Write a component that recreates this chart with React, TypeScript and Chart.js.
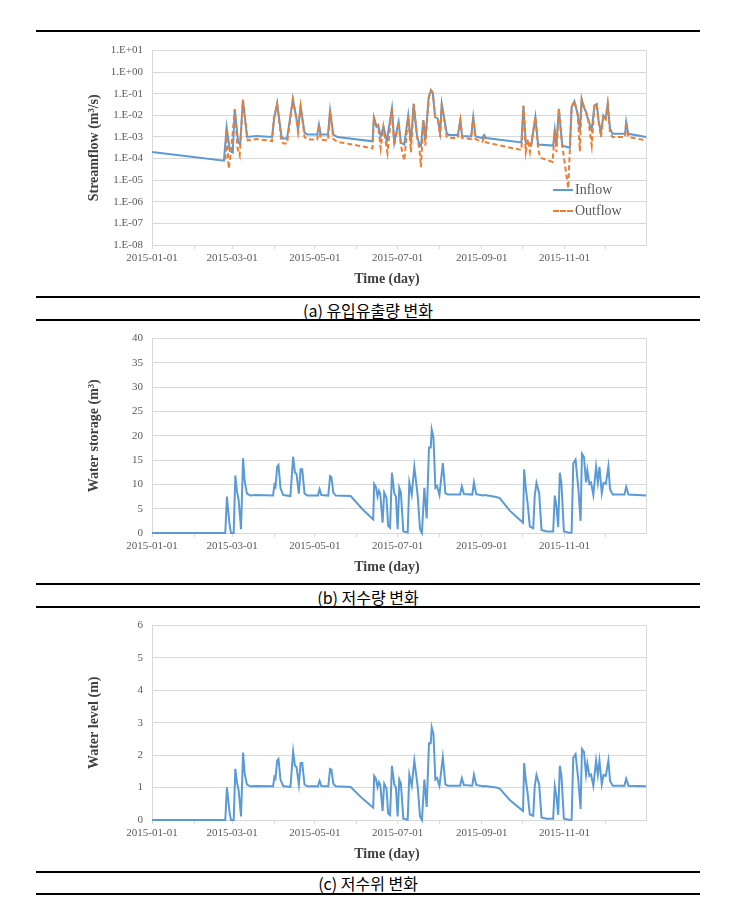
import React, { useEffect, useRef } from 'react';
import { Chart, registerables } from 'chart.js';

Chart.register(...registerables);

// ---- x axis (day of year 2015, 0 = 2015-01-01) ----
const monthStartDay = [0, 31, 59, 90, 120, 151, 181, 212, 243, 273, 304, 334];
const monthTickLabel = ['2015-01-01', '', '2015-03-01', '', '2015-05-01', '', '2015-07-01', '', '2015-09-01', '', '2015-11-01', ''];

// ---- log axis ticks (streamflow) ----
const flowTickValue = [1e-8, 1e-7, 1e-6, 1e-5, 1e-4, 1e-3, 1e-2, 1e-1, 1, 10];
const flowTickLabel = ['1.E-08', '1.E-07', '1.E-06', '1.E-05', '1.E-04', '1.E-03', '1.E-02', '1.E-01', '1.E+00', '1.E+01'];

// ---- (a) inflow ----
const inflowDay = [0, 53, 55, 57.5, 59.5, 61, 63.5, 65, 67, 70, 77, 88.5, 90, 92.2, 95.4, 96.5, 99.5, 103.8, 106.3, 107.6, 109.5, 112.4, 114.4, 121.8, 123, 124.3, 129.7, 131.2, 133.6, 136.6, 162.5, 163.5, 165.5, 166.6, 168.6, 170.6, 173, 176.8, 178.5, 181.7, 183.4, 185.9, 188.8, 190.8, 192.8, 195.3, 197, 198.2, 199.9, 201.4, 203.9, 205.6, 206.9, 208.6, 210.6, 212.3, 213.5, 217.2, 218.7, 225.3, 227.2, 228.5, 235.2, 236.7, 238.4, 243.3, 244.8, 246.1, 272.2, 273.7, 275.4, 279.6, 282.5, 284.5, 295.6, 296.8, 298, 299.8, 302.3, 307.9, 309.2, 311.2, 313.6, 315.3, 316.6, 318.3, 319.5, 321.5, 324, 326, 327.7, 329, 330.8, 332.6, 334.3, 335.8, 337.5, 339.3, 348.6, 349.4, 351, 364];
const inflowValue = [2.0e-4, 8.0e-5, 2.8e-3, 2.2e-4, 1.9e-4, 1.9e-2, 6e-4, 4.5e-4, 5.3e-2, 1.0e-3, 1.1e-3, 1.0e-3, 7e-3, 3.6e-2, 1.1e-3, 8.5e-4, 8.5e-4, 5.6e-2, 8e-3, 2.2e-3, 2.6e-2, 1.6e-3, 1.3e-3, 1.3e-3, 3.8e-3, 1.3e-3, 1.3e-3, 1.7e-2, 1.3e-3, 1.0e-3, 6.3e-4, 8e-3, 3e-3, 3.5e-3, 1.1e-3, 3e-3, 6.3e-4, 2.2e-2, 5.4e-4, 5e-3, 5.4e-4, 4.5e-4, 1.0e-2, 5.4e-4, 3.4e-2, 1.1e-3, 4.5e-4, 3.8e-4, 6e-3, 8e-4, 6.8e-2, 0.145, 0.11, 8.5e-3, 7e-3, 1.6e-3, 3.4e-2, 1.5e-3, 1.25e-3, 1.25e-3, 6e-3, 1.1e-3, 1.05e-3, 8.5e-3, 1.07e-3, 9e-4, 1.25e-3, 9e-4, 5.6e-4, 2.8e-2, 5.4e-4, 4.5e-4, 8.5e-3, 4.5e-4, 4e-4, 2.1e-3, 4e-4, 2e-2, 4e-4, 3.2e-4, 2.4e-2, 4.5e-2, 1.2e-2, 2.1e-3, 5.6e-2, 2.4e-2, 1.6e-2, 6e-3, 2.1e-3, 2.8e-2, 3.4e-2, 6e-3, 1.6e-3, 1e-2, 7e-3, 3.4e-2, 2.5e-3, 1.4e-3, 1.4e-3, 5e-3, 1.4e-3, 1.0e-3];

// ---- (a) outflow ----
const outflowDay = [54.2, 55, 56.5, 58, 61, 63, 64.6, 67, 70.5, 77, 88.5, 89.7, 92.2, 95.4, 97, 99.5, 103.8, 106.3, 107.6, 109.5, 112.4, 114.4, 121.8, 123, 124.3, 129.7, 131.2, 133.6, 136.6, 162.5, 163.5, 165.5, 166.6, 168.5, 170.5, 173.5, 176.8, 178.5, 181.7, 183.4, 185.9, 188.8, 190.8, 192.8, 195.3, 197, 198.2, 199.9, 201.4, 203.9, 205.6, 206.9, 208.6, 210.6, 212.3, 213.5, 217.2, 218.7, 225.3, 227.2, 228.5, 235.2, 236.7, 238.4, 243.3, 244.8, 246.1, 272.2, 273.7, 275.4, 277, 278.5, 282.5, 284.5, 286, 295.2, 296.8, 298, 299.8, 302.3, 306.7, 309.2, 311.2, 313.6, 315.3, 316.6, 318.3, 319.5, 321.5, 324, 326, 327.7, 329, 330.8, 332.6, 334.3, 335.8, 337.5, 339.3, 348.6, 349.4, 351, 364];
const outflowValue = [9e-5, 2.5e-3, 3.5e-5, 1.5e-4, 1.9e-2, 3e-4, 1.4e-4, 5.3e-2, 7e-4, 8e-4, 6.5e-4, 7e-3, 3.6e-2, 6e-4, 5e-4, 5e-4, 5.6e-2, 8e-3, 1.8e-3, 2.6e-2, 1e-3, 7.6e-4, 7.6e-4, 3.8e-3, 7.6e-4, 7e-4, 1.7e-2, 8e-4, 6e-4, 3e-4, 8e-3, 3e-3, 3.5e-3, 3e-4, 3e-3, 1.8e-4, 2.2e-2, 4e-4, 5e-3, 4e-4, 8e-5, 1e-2, 2e-4, 3.4e-2, 1e-3, 3e-4, 4e-5, 6e-3, 4e-4, 6.8e-2, 0.145, 0.11, 8.5e-3, 7e-3, 1e-3, 3.4e-2, 1e-3, 9e-4, 9e-4, 6e-3, 9e-4, 8e-4, 8.5e-3, 8e-4, 6e-4, 9e-4, 5.6e-4, 2.5e-4, 2.8e-2, 2e-4, 8e-4, 2e-4, 8.5e-3, 3e-4, 1.1e-4, 7e-5, 2.1e-3, 2e-4, 2e-2, 4e-4, 4.2e-6, 2.4e-2, 4.5e-2, 1.2e-2, 2.2e-4, 5.6e-2, 2.4e-2, 1.6e-2, 6e-3, 4e-4, 2.8e-2, 3.4e-2, 6e-3, 1e-3, 1e-2, 7e-3, 3.4e-2, 1.5e-3, 1e-3, 1e-3, 5e-3, 1e-3, 7e-4];

// ---- (b) storage and (c) level, read at the same days ----
const tankDay = [0, 54, 55.2, 57.2, 58.2, 60.2, 61.4, 62.6, 63.8, 65.6, 67.1, 68.3, 70, 72.5, 76.2, 89.2, 90.2, 91, 92.2, 93.2, 94.7, 96.7, 102, 104, 105.3, 106.5, 108.2, 109.5, 110.7, 112.4, 114.5, 122.3, 123.5, 124.8, 129.9, 131.2, 132.2, 133.6, 135.4, 146.4, 155.1, 163, 163.7, 165, 166.2, 167.2, 168.2, 169.9, 171.1, 172.8, 174, 175.4, 176.8, 178.5, 179.7, 181, 182.2, 183.4, 185.2, 188.4, 189.6, 191.4, 193.3, 195.8, 197.5, 198.9, 200.7, 202.4, 204.1, 205.4, 206.1, 207.4, 208.8, 210, 211.8, 214.3, 216.2, 217.9, 227, 228.3, 229.8, 236, 237.2, 238.9, 243.8, 245.1, 253.7, 256.2, 263.6, 272.2, 273.4, 274.2, 275.4, 276.7, 278.4, 280.9, 282, 283.3, 285.3, 287, 290.7, 295.6, 296.8, 298, 299.3, 300.5, 301.7, 303.5, 307.9, 309.2, 310.4, 312.1, 314.1, 315.8, 316.8, 318.3, 319.8, 320.8, 322.3, 323.5, 325.2, 327.2, 328.5, 329.7, 331.4, 332.7, 334.4, 336.3, 337.5, 339.5, 348.1, 349.4, 351.1, 364];
const storageValue = [0, 0, 7.5, 1.6, 0, 0, 11.8, 8.6, 6.9, 0.8, 15.4, 10.6, 8.1, 7.7, 7.8, 7.7, 9.9, 9.5, 13.6, 14.0, 9.2, 7.8, 7.6, 15.7, 12.5, 12.1, 8.1, 13.1, 13.1, 8.1, 7.7, 7.7, 9.0, 7.8, 7.7, 11.7, 11.5, 8.3, 7.7, 7.6, 4.9, 2.8, 10.1, 9.5, 7.5, 8.7, 8.1, 2.1, 8.3, 7.2, 1.5, 1.1, 12.4, 8.2, 7.5, 0.8, 9.3, 8.3, 0.3, 0.1, 10.4, 7.9, 13.6, 7.6, 0.8, 0, 9.3, 3.0, 17.6, 17.6, 21.3, 19.6, 9.3, 9.7, 7.8, 14.4, 8.2, 7.9, 7.9, 9.6, 8.0, 7.9, 10.4, 8.0, 7.7, 7.8, 7.4, 7.2, 4.6, 2.4, 2.1, 13.1, 9.3, 6.3, 1.3, 1.0, 7.6, 10.3, 8.2, 0.6, 0.3, 0.3, 7.7, 5.5, 1.2, 12.4, 10.1, 0.3, 0, 0.1, 14.3, 15.1, 9.3, 2.5, 16.3, 15.6, 10.4, 12.9, 10.1, 10.4, 7.8, 13.6, 10.4, 13.6, 8.2, 10.3, 10.1, 13.7, 9.0, 7.9, 7.9, 9.5, 7.9, 7.7];
const levelValue = [0, 0, 1.01, 0.22, 0, 0, 1.58, 1.16, 0.93, 0.11, 2.08, 1.43, 1.09, 1.04, 1.05, 1.04, 1.33, 1.28, 1.83, 1.88, 1.24, 1.05, 1.02, 2.11, 1.68, 1.63, 1.09, 1.76, 1.76, 1.09, 1.04, 1.04, 1.21, 1.05, 1.04, 1.57, 1.55, 1.12, 1.04, 1.02, 0.66, 0.38, 1.36, 1.28, 1.01, 1.17, 1.09, 0.28, 1.12, 0.97, 0.2, 0.15, 1.67, 1.1, 1.01, 0.11, 1.25, 1.12, 0.04, 0.01, 1.4, 1.06, 1.83, 1.02, 0.11, 0, 1.25, 0.4, 2.37, 2.37, 2.86, 2.64, 1.25, 1.3, 1.05, 1.94, 1.1, 1.06, 1.06, 1.29, 1.08, 1.06, 1.4, 1.08, 1.04, 1.05, 1.0, 0.97, 0.62, 0.32, 0.28, 1.76, 1.25, 0.85, 0.17, 0.13, 1.02, 1.39, 1.1, 0.08, 0.04, 0.04, 1.04, 0.74, 0.16, 1.67, 1.36, 0.04, 0, 0.01, 1.92, 2.03, 1.25, 0.34, 2.19, 2.1, 1.4, 1.74, 1.36, 1.4, 1.05, 1.83, 1.4, 1.83, 1.1, 1.39, 1.36, 1.84, 1.21, 1.06, 1.06, 1.28, 1.06, 1.04];

const BLUE = '#5b9bd5';
const ORANGE = '#ed7d31';
const GRID = '#d9d9d9';
const TICK_COLOR = '#595959';
const TITLE_COLOR = '#404040';
const SERIF = "'Liberation Serif', 'Times New Roman', serif";
const tickFont = { family: SERIF, size: 11 };
const titleFont = { family: SERIF, size: 14, weight: 'bold' as const };

const pts = (xs: number[], ys: number[]) => xs.map((x, i) => ({ x, y: ys[i] }));

const framePlugin = {
  id: 'frameRight',
  beforeDatasetsDraw(chart: any) {
    const { ctx, chartArea } = chart;
    ctx.save();
    ctx.strokeStyle = GRID;
    ctx.lineWidth = 1;
    ctx.beginPath();
    ctx.moveTo(Math.round(chartArea.right) + 0.5, chartArea.top);
    ctx.lineTo(Math.round(chartArea.right) + 0.5, chartArea.bottom);
    ctx.stroke();
    ctx.restore();
  },
};

// x-axis title is drawn by the scale; the reference centres it a little left of the plot centre,
// so the scale title is shifted via its start alignment inside a slightly narrower span.
const xTitlePlugin = {
  id: 'xTitleShift',
  afterDraw(chart: any) {
    const s = chart.scales.x;
    const { ctx } = chart;
    ctx.save();
    ctx.font = `bold 14px ${SERIF}`;
    ctx.fillStyle = TITLE_COLOR;
    ctx.textAlign = 'center';
    ctx.textBaseline = 'middle';
    ctx.fillText('Time (day)', (s.left + s.right) / 2 - 12, s.bottom - 16);
    ctx.restore();
  },
};

const xScale = () => ({
  type: 'linear' as const,
  min: 0,
  max: 364,
  afterBuildTicks: (s: any) => {
    s.ticks = monthStartDay.map((v) => ({ value: v }));
  },
  afterFit: (s: any) => {
    s.height = 50;
  },
  ticks: {
    autoSkip: false,
    maxRotation: 0,
    minRotation: 0,
    padding: 3,
    font: tickFont,
    color: TICK_COLOR,
    callback: (_v: any, i: number) => monthTickLabel[i],
  },
  grid: { drawOnChartArea: false, drawTicks: true, tickLength: 4, color: GRID },
  border: { display: true, color: GRID },
  title: { display: false },
});

const yCommon = (title: string) => ({
  afterFit: (s: any) => {
    s.width = 116;
  },
  grid: { color: GRID, drawTicks: false },
  border: { display: true, color: GRID },
  title: { display: true, text: title, font: titleFont, color: TITLE_COLOR, padding: { top: 50, bottom: 0 } },
});

const baseOptions = (scales: any) => ({
  responsive: false,
  maintainAspectRatio: false,
  devicePixelRatio: 1,
  animation: false as const,
  layout: { padding: { top: 10, right: 54, left: 0, bottom: 0 } },
  plugins: { legend: { display: false }, tooltip: { enabled: false } },
  elements: { point: { radius: 0 }, line: { tension: 0 } },
  scales,
});

const lineSet = (label: string, data: any[], color: string, extra: any = {}) => ({
  label,
  data,
  borderColor: color,
  backgroundColor: color,
  borderWidth: 2,
  pointRadius: 0,
  fill: false,
  clip: 3,
  ...extra,
});

const buildFlow = () => ({
  type: 'line' as const,
  data: {
    datasets: [
      lineSet('Inflow', pts(inflowDay, inflowValue), BLUE, { order: 1 }),
      lineSet('Outflow', pts(outflowDay, outflowValue), ORANGE, { order: 0, borderDash: [5, 3] }),
    ],
  },
  options: baseOptions({
    x: xScale(),
    y: {
      type: 'logarithmic',
      min: 1e-8,
      max: 10,
      afterBuildTicks: (s: any) => {
        s.ticks = flowTickValue.map((v) => ({ value: v }));
      },
      ticks: { padding: 9, font: tickFont, color: TICK_COLOR, autoSkip: false, callback: (_v: any, i: number) => flowTickLabel[i] },
      ...yCommon('Streamflow (m³/s)'),
    },
  }),
  plugins: [framePlugin, xTitlePlugin],
});

const buildStorage = () => ({
  type: 'line' as const,
  data: { datasets: [lineSet('Water storage', pts(tankDay, storageValue), BLUE)] },
  options: baseOptions({
    x: xScale(),
    y: {
      type: 'linear',
      min: 0,
      max: 40,
      ticks: { stepSize: 5, padding: 9, font: tickFont, color: TICK_COLOR },
      ...yCommon('Water storage (m³)'),
    },
  }),
  plugins: [framePlugin, xTitlePlugin],
});

const buildLevel = () => ({
  type: 'line' as const,
  data: { datasets: [lineSet('Water level', pts(tankDay, levelValue), BLUE)] },
  options: baseOptions({
    x: xScale(),
    y: {
      type: 'linear',
      min: 0,
      max: 6,
      ticks: { stepSize: 1, padding: 9, font: tickFont, color: TICK_COLOR },
      ...yCommon('Water level (m)'),
    },
  }),
  plugins: [framePlugin, xTitlePlugin],
});

function Panel({ top, build }: { top: number; build: () => any }) {
  const ref = useRef<HTMLCanvasElement>(null);
  useEffect(() => {
    const chart = new Chart(ref.current as HTMLCanvasElement, build());
    return () => chart.destroy();
  }, []);
  return (
    <canvas
      ref={ref}
      width={664}
      height={260}
      style={{ position: 'absolute', left: 36, top, width: 664, height: 260, display: 'block' }}
    />
  );
}

const HLine = ({ y }: { y: number }) => (
  <div style={{ position: 'absolute', left: 36, top: y - 1, width: 664, height: 2, background: '#000' }} />
);

const Caption = ({ y, text }: { y: number; text: string }) => (
  <div
    style={{
      position: 'absolute',
      left: 36,
      width: 664,
      top: y - 11,
      height: 22,
      lineHeight: '22px',
      textAlign: 'center',
      fontFamily: "'Noto Sans CJK KR', sans-serif",
      fontSize: 16,
      color: '#000',
      whiteSpace: 'pre',
    }}
  >
    {text}
  </div>
);

const LegendItem = ({ y, label, color, dashed }: { y: number; label: string; color: string; dashed?: boolean }) => (
  <div style={{ position: 'absolute', left: 553, top: y - 10, height: 20, display: 'flex', alignItems: 'center' }}>
    <div style={{ width: 20, height: 0, borderTop: `2px ${dashed ? 'dashed' : 'solid'} ${color}` }} />
    <span style={{ marginLeft: 2, fontFamily: SERIF, fontSize: 14, color: TICK_COLOR, lineHeight: '20px' }}>{label}</span>
  </div>
);

export default function App() {
  return (
    <div style={{ position: 'absolute', left: 0, top: 0, width: 745, height: 897, background: '#fff', overflow: 'hidden' }}>
      <HLine y={31} />
      <Panel top={35} build={buildFlow} />
      <LegendItem y={190} label="Inflow" color={BLUE} />
      <LegendItem y={211} label="Outflow" color={ORANGE} dashed />
      <HLine y={297} />
      <Caption y={310} text="(a) 유입유출량 변화" />
      <HLine y={320} />
      <Panel top={323} build={buildStorage} />
      <HLine y={584} />
      <Caption y={597} text="(b) 저수량 변화" />
      <HLine y={607} />
      <Panel top={610} build={buildLevel} />
      <HLine y={872} />
      <Caption y={883} text="(c) 저수위 변화" />
      <HLine y={894} />
    </div>
  );
}
